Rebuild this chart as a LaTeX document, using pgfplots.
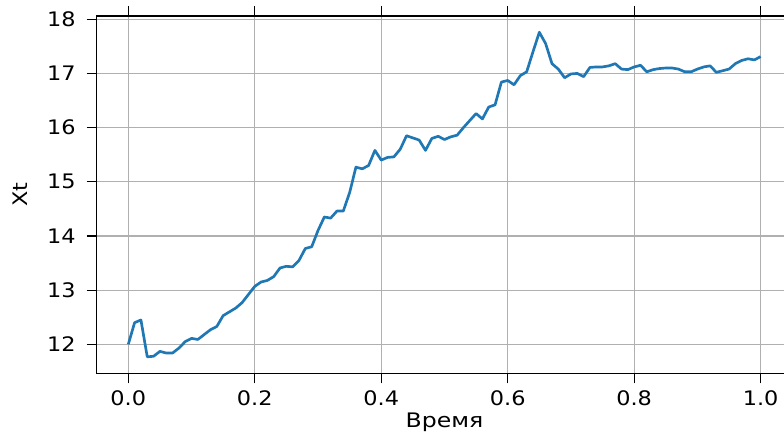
\documentclass[border=0pt]{standalone}
\usepackage{fontspec}
\setmainfont{DejaVu Sans}[FakeStretch=1.12]
\newfontfamily\labelfont{DejaVu Sans}[FakeStretch=1.18]
\usepackage{pgfplots}
\pgfplotsset{compat=1.18}
\definecolor{mplblue}{HTML}{1F77B4}
\definecolor{gridgray}{HTML}{B0B0B0}
\begin{document}
\fontsize{15}{18}\selectfont
\begin{tikzpicture}
\begin{axis}[
  at={(72.5pt,48.5pt)}, anchor=south west,
  scale only axis, width=521.7pt, height=268pt,
  xmin=-0.05, xmax=1.05, ymin=11.465, ymax=18.06,
  xtick={0,0.2,0.4,0.6,0.8,1.0},
  xticklabels={0.0,0.2,0.4,0.6,0.8,1.0},
  ytick={12,13,14,15,16,17,18},
  /pgf/number format/assume math mode=true,
  tick align=outside, major tick length=7.5pt,
  tick style={black, line width=0.9pt},
  axis line style={black, line width=0.9pt},
  grid=major,
  major grid style={gridgray, line width=0.9pt},
  xticklabel style={anchor=base, inner sep=0pt, yshift=-16.3pt},
  yticklabel style={anchor=east, inner sep=0pt, xshift=-8pt},
  every axis x label/.style={at={(axis description cs:0.5,0)}, anchor=base, yshift=-40.3pt},
  every axis y label/.style={at={(axis description cs:-0.1093,0.5)}, rotate=90, anchor=center},
  xlabel={\labelfont Время}, ylabel={Xt},
]
\addplot[mplblue, line width=2pt, line join=round] coordinates {
(0.00,12.00) (0.01,12.40) (0.02,12.45) (0.03,11.77) (0.04,11.78)
(0.05,11.87) (0.06,11.84) (0.07,11.84) (0.08,11.93) (0.09,12.05)
(0.10,12.11) (0.11,12.09) (0.12,12.18) (0.13,12.27) (0.14,12.33)
(0.15,12.53) (0.16,12.60) (0.17,12.67) (0.18,12.77) (0.19,12.92)
(0.20,13.07) (0.21,13.15) (0.22,13.18) (0.23,13.25) (0.24,13.41)
(0.25,13.44) (0.26,13.43) (0.27,13.55) (0.28,13.77) (0.29,13.80)
(0.30,14.10) (0.31,14.35) (0.32,14.33) (0.33,14.46) (0.34,14.46)
(0.35,14.80) (0.36,15.27) (0.37,15.24) (0.38,15.30) (0.39,15.58)
(0.40,15.40) (0.41,15.45) (0.42,15.46) (0.43,15.60) (0.44,15.85)
(0.45,15.81) (0.46,15.77) (0.47,15.58) (0.48,15.80) (0.49,15.84)
(0.50,15.78) (0.51,15.83) (0.52,15.86) (0.53,16.00) (0.54,16.13)
(0.55,16.26) (0.56,16.16) (0.57,16.38) (0.58,16.42) (0.59,16.84)
(0.60,16.87) (0.61,16.79) (0.62,16.96) (0.63,17.03) (0.64,17.40)
(0.65,17.76) (0.66,17.55) (0.67,17.18) (0.68,17.08) (0.69,16.92)
(0.70,16.99) (0.71,17.00) (0.72,16.94) (0.73,17.11) (0.74,17.12)
(0.75,17.12) (0.76,17.14) (0.77,17.18) (0.78,17.08) (0.79,17.07)
(0.80,17.12) (0.81,17.15) (0.82,17.03) (0.83,17.07) (0.84,17.09)
(0.85,17.10) (0.86,17.10) (0.87,17.08) (0.88,17.03) (0.89,17.03)
(0.90,17.08) (0.91,17.12) (0.92,17.14) (0.93,17.02) (0.94,17.05)
(0.95,17.08) (0.96,17.18) (0.97,17.24) (0.98,17.27) (0.99,17.25)
(1.00,17.31)
};
\end{axis}
\pgfresetboundingbox
\path[use as bounding box] (0,0) rectangle (588pt,328.5pt);
\end{tikzpicture}
\end{document}
